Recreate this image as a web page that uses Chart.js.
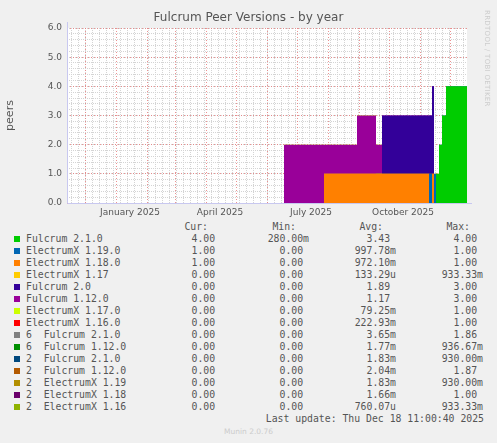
<!DOCTYPE html>
<html><head><meta charset="utf-8">
<script src="https://cdn.jsdelivr.net/npm/chart.js@4"></script>
<style>
body{margin:0;background:#f0f0f0;width:497px;height:443px;overflow:hidden;position:relative;font-family:"DejaVu Sans",sans-serif;color:#555}
#wrap{position:absolute;left:0;top:0;width:497px;height:220px}
.t{position:absolute;white-space:pre;font-family:"DejaVu Sans Mono",monospace;font-size:9.8px;color:#555;line-height:12px}
.sw{position:absolute;width:6px;height:6px}
</style></head><body>
<div id="wrap"><canvas id="c" width="497" height="220"></canvas></div>
<div style="position:absolute;left:0;width:497px;top:10px;text-align:center;font-size:12px;color:#555">Fulcrum Peer Versions - by year</div>
<div style="position:absolute;left:481px;top:10px;width:14px;height:200px;"><div style="position:absolute;left:2px;top:0;writing-mode:vertical-rl;font-size:7px;color:#ccc;letter-spacing:0.3px">RRDTOOL / TOBI OETIKER</div></div>
<div id="leg"></div>
<script>
// days counted from Nov 12 2024
const days =      [0, 218, 231, 258, 291, 310, 316, 363, 366, 368, 370, 373, 376, 380, 401];
const fulcrum210 =[0, 0,   0,   0,   0,   0,   0,   0,   0,   0,   1,   2,   3,   4,   4];
const electrumx119=[0,0,   0,   0,   0,   0,   0,   1,   0,   1,   1,   1,   1,   1,   1];
const electrumx118=[0,0,   0,   1,   1,   1,   1,   0,   1,   1,   1,   1,   1,   1,   1];
const electrumx117=[0,0,   0,   0,   0,   0,   0,   0,   0,   0,   0,   0,   0,   0,   0];
const fulcrum20 = [0, 0,   0,   0,   0,   1,   3,   3,   4,   0,   0,   0,   0,   0,   0];
const fulcrum1120=[0, 2,   2,   2,   3,   2,   0,   0,   0,   0,   0,   0,   0,   0,   0];
const electrumx1170=[0,1,  0,   0,   0,   0,   0,   0,   0,   0,   0,   0,   0,   0,   0];
const electrumx1160=[0,1,  1,   0,   0,   0,   0,   0,   0,   0,   0,   0,   0,   0,   0];
const zeros =     [0, 0,   0,   0,   0,   0,   0,   0,   0,   0,   0,   0,   0,   0,   0];

const names = ["Fulcrum 2.1.0","ElectrumX 1.19.0","ElectrumX 1.18.0","ElectrumX 1.17","Fulcrum 2.0","Fulcrum 1.12.0","ElectrumX 1.17.0","ElectrumX 1.16.0","6  Fulcrum 2.1.0","6  Fulcrum 1.12.0","2  Fulcrum 2.1.0","2  Fulcrum 1.12.0","2  ElectrumX 1.19","2  ElectrumX 1.18","2  ElectrumX 1.16"];
const colors = ["#00CC00","#0066B3","#FF8000","#FFCC00","#330099","#990099","#CCFF00","#FF0000","#808080","#008F00","#00487D","#B35A00","#B38F00","#6B006B","#8FB300"];
const series = [fulcrum210,electrumx119,electrumx118,electrumx117,fulcrum20,fulcrum1120,electrumx1170,electrumx1160,zeros,zeros,zeros,zeros,zeros,zeros,zeros];
const cur = ["4.00","1.00","1.00","0.00","0.00","0.00","0.00","0.00","0.00","0.00","0.00","0.00","0.00","0.00","0.00"];
const mins = ["280.00m","0.00","0.00","0.00","0.00","0.00","0.00","0.00","0.00","0.00","0.00","0.00","0.00","0.00","0.00"];
const avgs = ["3.43","997.78m","972.10m","133.29u","1.89","1.17","79.25m","222.93m","3.65m","1.77m","1.83m","2.04m","1.83m","1.66m","760.07u"];
const maxs = ["4.00","1.00","1.00","933.33m","3.00","3.00","1.00","1.00","1.86","936.67m","930.00m","1.87","930.00m","1.00","933.33m"];
const monthStarts = [19,50,81,109,140,170,201,231,262,293,323,354,384];
const labelDays = [64,154,245,337];
const labelText = ["January 2025","April 2025","July 2025","October 2025"];

const datasets = series.map((s,i)=>({label:names[i],data:s.map((v,j)=>({x:days[j],y:v})),backgroundColor:colors[i],borderWidth:0,pointRadius:0,stepped:'before',fill:i===0?'origin':'-1'}));

const bg = {id:'bg',beforeDraw(c){const a=c.chartArea,x=c.ctx;x.save();x.fillStyle='#fff';x.fillRect(a.left,a.top,a.right-a.left,a.bottom-a.top);x.restore();},
 afterDraw(c){const a=c.chartArea,x=c.ctx;x.save();x.strokeStyle='#c8c8f0';x.lineWidth=1;x.beginPath();x.moveTo(a.left+0.5,a.top-6);x.lineTo(a.left+0.5,a.bottom+0.5);x.lineTo(a.right+5,a.bottom+0.5);x.stroke();x.restore();}};
const font={family:"DejaVu Sans",size:9};
const major='rgba(230,120,120,0.8)';
new Chart(document.getElementById('c'),{type:'line',data:{datasets},plugins:[bg],
options:{responsive:false,animation:false,layout:{padding:{left:0,top:28,right:30,bottom:0}},
plugins:{legend:{display:false},tooltip:{enabled:false}},
scales:{
 x2:{type:'linear',position:'top',min:1,max:401,border:{display:false,dash:[1,1]},afterBuildTicks(s){const t=[];for(let v=5;v<401;v+=7)t.push({value:v});s.ticks=t;},afterFit(s){s.height=0;},
   grid:{drawTicks:false,color:'#d4d4d4'},ticks:{display:false}},
 y2:{position:'right',min:0,max:6,border:{display:false,dash:[1,1]},afterFit(s){s.width=0;},
   afterBuildTicks(s){const t=[];for(let v=0;v<=30;v++)t.push({value:v*0.2});s.ticks=t;},
   grid:{drawTicks:false,color:'#d4d4d4'},ticks:{display:false}},
 x:{type:'linear',min:1,max:401,border:{display:false,dash:[1,2]},
   afterBuildTicks(s){s.ticks=monthStarts.concat(labelDays).map(v=>({value:v}));},
   afterFit(s){s.height=17;},
   grid:{drawTicks:false,color:c=>labelDays.includes(c.tick&&c.tick.value)?'rgba(0,0,0,0)':major},
   ticks:{autoSkip:false,maxRotation:0,padding:4,color:'#555',font,callback:v=>{const k=labelDays.indexOf(v);return k<0?'':labelText[k];}}},
 y:{stacked:true,min:0,max:6,border:{display:false,dash:[1,2]},afterFit(s){s.width=67;},
   title:{display:true,text:'peers',color:'#555',font:{family:"DejaVu Sans",size:11},padding:{bottom:15}},
   grid:{drawTicks:false,color:major},
   ticks:{stepSize:1,padding:5,color:'#555',font,callback:v=>v.toFixed(1)}}
}}});
const leg=document.getElementById('leg');
function add(txt,x,y,right){const d=document.createElement('div');d.className='t';d.textContent=txt;d.style.top=y+'px';if(right){d.style.right=(497-x)+'px';}else d.style.left=x+'px';leg.appendChild(d);}
const fmt=v=>/[a-z]$/.test(v)?v:v+' ';
add('Cur:',208,221,true);add('Min:',296,221,true);add('Avg:',383,221,true);add('Max:',470,221,true);
names.forEach((n,i)=>{const y=233+i*12;const s=document.createElement('div');s.className='sw';s.style.left='14px';s.style.top=(y+3)+'px';s.style.background=colors[i];leg.appendChild(s);
 add(n,26,y);add(fmt(cur[i]),221,y,true);add(fmt(mins[i]),309,y,true);add(fmt(avgs[i]),396,y,true);add(fmt(maxs[i]),483,y,true);});
add('Last update: Thu Dec 18 11:00:40 2025',484,413,true);
const m=document.createElement('div');m.textContent='Munin 2.0.76';m.style.cssText='position:absolute;left:0;width:497px;top:427px;text-align:center;font-size:7.5px;color:#ccc';leg.appendChild(m);
</script></body></html>
